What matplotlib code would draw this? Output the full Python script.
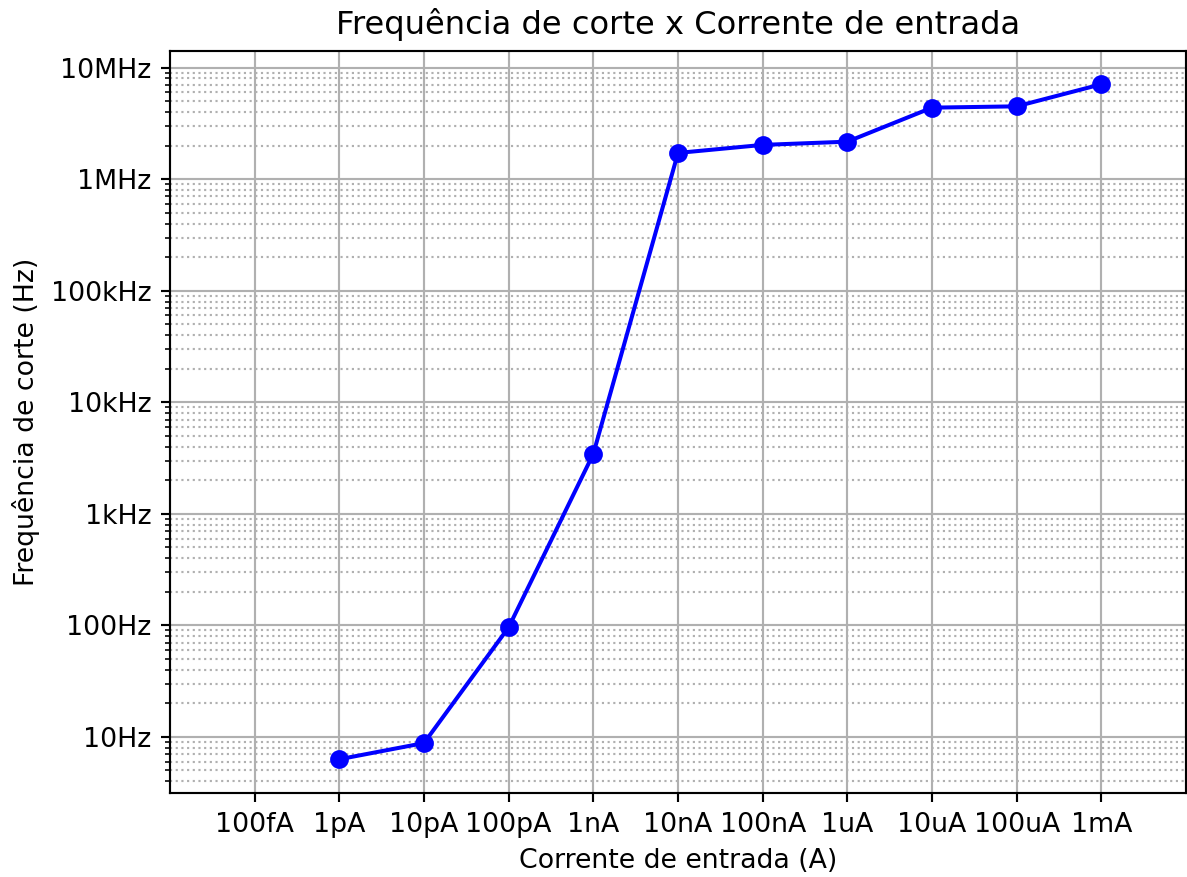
import matplotlib
matplotlib.use("Agg")
import matplotlib.pyplot as plt
from matplotlib.ticker import NullLocator, LogLocator, NullFormatter

# Data
corrente = [1e-12, 1e-11, 1e-10, 1e-9, 1e-8, 1e-7, 1e-6, 1e-5, 1e-4, 1e-3]
frequencia = [6.3, 8.8, 96, 3.45e3, 1.72e6, 2.03e6, 2.17e6, 4.38e6, 4.5e6, 7.1e6]

xtick_vals = [1e-13, 1e-12, 1e-11, 1e-10, 1e-9, 1e-8, 1e-7, 1e-6, 1e-5, 1e-4, 1e-3]
xtick_labels = ["100fA", "1pA", "10pA", "100pA", "1nA", "10nA", "100nA", "1uA", "10uA", "100uA", "1mA"]
ytick_vals = [1e1, 1e2, 1e3, 1e4, 1e5, 1e6, 1e7]
ytick_labels = ["10Hz", "100Hz", "1kHz", "10kHz", "100kHz", "1MHz", "10MHz"]

dpi = 193
fig = plt.figure(figsize=(1187 / dpi, 877 / dpi), dpi=dpi)
ax = fig.add_axes([170 / 1187, 1 - 793 / 877, (1186 - 170) / 1187, (793 - 50.5) / 877])

ax.plot(corrente, frequencia, 'bo-')
ax.set_xscale('log')
ax.set_yscale('log')
ax.set_xlim(1e-14, 1e-2)

ax.set_xticks(xtick_vals)
ax.set_xticklabels(xtick_labels)
ax.xaxis.set_minor_locator(NullLocator())
ax.set_yticks(ytick_vals)
ax.set_yticklabels(ytick_labels)
ax.yaxis.set_minor_locator(LogLocator(base=10, subs=range(2, 10), numticks=20))
ax.yaxis.set_minor_formatter(NullFormatter())

ax.grid(True, which='major', color='#b0b0b0', linewidth=0.8)
ax.grid(True, which='minor', axis='y', linestyle=':', color='#b0b0b0', linewidth=0.8)

ax.set_title("Frequência de corte x Corrente de entrada", fontsize=12)
ax.set_xlabel("Corrente de entrada (A)")
ax.set_ylabel("Frequência de corte (Hz)")

fig.savefig("out.png", dpi=dpi)
